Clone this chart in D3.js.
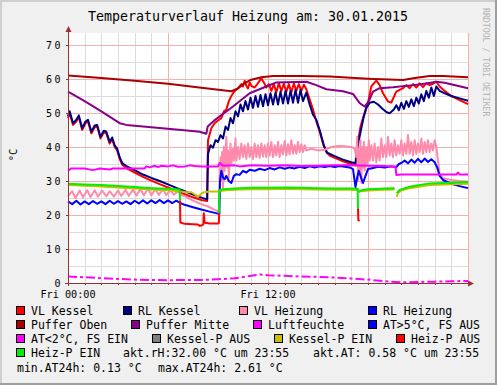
<!DOCTYPE html>
<html>
<head>
<meta charset="utf-8">
<script src="https://cdn.jsdelivr.net/npm/d3@7.9.0/dist/d3.min.js"></script>
<style>
  html, body { margin: 0; padding: 0; background: #f0f0f0; }
  svg { display: block; }
  text { font-family: 'DejaVu Sans Mono', monospace; fill: #000; }
</style>
</head>
<body>
<svg id="chart" width="497" height="385"></svg>
<script>
// values: [hour, °C]
const vlKessel = [[0,48.5],[0.1,50],[0.3,46.5],[0.5,47.5],[0.65,48.8],[0.85,45],[1.05,47],[1.2,47.5],[1.4,44],[1.6,45.8],[1.75,46],[1.95,42.5],[2.15,44.3],[2.3,44],[2.5,41],[2.65,42.3],[2.8,40],[2.95,39],[3.1,36.5],[3.25,34.8],[3.5,33.8],[4,32.5],[4.5,31.2],[5,30.1],[5.5,29.1],[6,28.1],[6.5,27.1],[7,26.1],[7.5,25.2],[8,24.4],[8.35,24.1],
  [8.4,42],[8.6,45.5],[8.8,47],[9.0,47.8],[9.2,48.5],[9.35,50.5],[9.5,51],[9.65,53.5],[9.8,55],[10.0,56.5],[10.2,57.3],[10.4,58.5],[10.5,57.8],[10.6,59.5],[10.7,58],[10.8,57.2],[10.9,59],[11.0,58],[11.2,57.5],[11.4,58.8],[11.6,60.2],[11.75,59],[11.9,57.5],[12.05,58.5],[12.2,56.5],[12.35,58.5],[12.5,56],[12.65,58.8],[12.8,56.5],[12.95,58.6],[13.1,56.2],[13.25,58.5],[13.4,56],[13.55,58.7],[13.7,56.5],[13.85,58.5],[14.0,56.5],[14.15,58.3],[14.3,57],[14.5,54],[14.7,51],[14.9,47.5],[15.1,44.5],[15.3,41],[15.5,38.5],[15.7,37.5],[16,36.8],[16.5,35.8],[17,35],[17.25,34.6],
  [17.35,40],[17.55,46],[17.7,48.5],[18.0,53],[18.2,57.8],[18.35,58.7],[18.5,59.5],[18.7,58.2],[18.9,55.8],[19.2,53.4],[19.4,53.1],[19.7,56.3],[20.1,57.3],[20.3,58.2],[20.5,57.3],[20.7,58.5],[20.9,57.5],[21.1,58.7],[21.3,57.6],[21.5,58.8],[21.7,58.2],[21.9,58.6],[22.1,59.2],[22.3,57.8],[22.6,56.5],[23,55],[23.5,53.8],[24,52.6]];

const rlKessel = [[0,49],[0.1,50.5],[0.3,47],[0.5,48],[0.65,49.3],[0.85,45.5],[1.05,47.5],[1.2,48],[1.4,44.5],[1.6,46.3],[1.75,46.5],[1.95,43],[2.15,44.8],[2.3,44.5],[2.5,41.5],[2.65,42.8],[2.8,40.5],[2.95,39.5],[3.1,37],[3.25,35.3],[3.5,34.4],[4,33.2],[4.5,31.9],[5,30.9],[5.5,30],[6,29],[6.5,28],[7,27],[7.5,26],[8,25.1],[8.35,24.6],
  [8.4,38],[8.55,40.5],[8.7,39.8],[8.85,42],[9,41.5],[9.15,43.5],[9.3,42.5],[9.45,46],[9.6,45],[9.75,48.5],[9.9,47],[10.05,50.5],[10.2,49],[10.35,52.5],[10.5,50.5],[10.65,53.5],[10.8,51],[10.95,54.5],[11.1,51.5],[11.25,55],[11.4,51.8],[11.55,55.3],[11.7,52],[11.85,55.5],[12,52.3],[12.15,55.8],[12.3,52.5],[12.45,56],[12.6,52.5],[12.75,56.3],[12.9,52.8],[13.05,56.5],[13.2,52.8],[13.35,56.5],[13.5,53],[13.65,56.8],[13.8,53],[13.95,56.8],[14.1,53.5],[14.3,56],[14.5,52.5],[14.7,49.5],[14.9,48],[15.1,45],[15.35,40.5],[15.55,38.3],[16,37.3],[16.5,36.3],[17,35.5],[17.25,35.2],
  [17.3,38],[17.45,42],[17.6,45.5],[17.75,49],[17.9,51.5],[18.1,53],[18.35,53.3],[18.6,52.5],[18.85,51.3],[19.1,50.3],[19.3,49.9],[19.55,51],[19.7,52.3],[19.85,50.8],[20,53],[20.15,51.2],[20.3,53.5],[20.45,51.8],[20.6,54],[20.75,52],[20.9,54.5],[21.05,52.8],[21.2,55.5],[21.35,53.5],[21.5,56.5],[21.65,54.5],[21.8,57.5],[21.95,55],[22.1,57.8],[22.3,56.5],[22.6,55.8],[23,55],[23.5,54.3],[24,53.6]];

const vlHeizung = [[0,25.5],[0.25,27],[0.45,25],[0.7,27.2],[0.9,25.2],[1.15,27.3],[1.35,25.3],[1.6,27.3],[1.8,25.4],[2.05,27.2],[2.3,25.5],[2.5,27],[2.75,25.4],[3.0,27.2],[3.2,25.6],[3.45,27.4],[3.65,25.6],[3.9,27.5],[4.1,25.7],[4.35,27.6],[4.55,25.8],[4.8,27.8],[5.0,25.8],[5.25,27.6],[5.45,25.9],[5.7,27.5],[5.9,25.9],[6.15,27.3],[6.35,26],[6.6,27],[6.8,25.8],[7.0,25.6],[7.2,25],[7.6,24],[8.0,23.2],[8.4,22.5],[8.8,21.5],[9.05,21],
  [9.1,29],[9.15,37],[9.2,30],[9.25,38.5],[9.3,28],[9.35,40],[9.4,33],[9.5,43],[9.55,34],[9.6,39],[9.65,31],[9.75,41],[9.8,35],[9.9,39.5],[9.95,36],[10.05,42.5],[10.1,36],[10.2,40],[10.3,36.5],[10.4,41],[10.5,37],[10.6,40.5],[10.7,36.5],[10.8,41],[10.9,37],[11.0,40],[11.1,36.5],[11.2,41],[11.3,37],[11.4,40.5],[11.5,36.8],[11.6,41],[11.7,37.2],[11.8,40.5],[11.9,37],[12.0,41],[12.1,37.5],[12.2,41.5],[12.3,37],[12.4,40.5],[12.5,37.5],[12.6,41.5],[12.7,37],[12.8,40.5],[12.9,37.8],[13.0,41.8],[13.1,37.5],[13.2,40.8],[13.3,37.8],[13.4,42],[13.5,38],[13.6,40.5],[13.7,38],[13.8,41.5],[13.9,38.5],[14.0,40.8],[14.1,38.5],[14.2,40.5],[14.3,39],[14.6,39.5],[15,39],[15.4,39.2],[15.8,40],[16.2,40.3],[16.6,40.2],[17.0,40],[17.2,39.5],
  [17.3,37],[17.35,43],[17.4,30],[17.45,39],[17.5,33],[17.55,42],[17.6,29.5],[17.65,40],[17.7,34],[17.75,41.5],[17.8,33],[17.9,40],[17.95,35],[18.05,42],[18.1,36],[18.2,40.5],[18.3,36],[18.4,41],[18.5,35.5],[18.6,40],[18.7,36],[18.8,42.5],[18.9,37],[19.0,40.5],[19.1,37],[19.2,43],[19.3,37.5],[19.4,41],[19.5,37],[19.6,42],[19.7,37.5],[19.8,40.5],[19.9,38],[20.0,42],[20.1,37.5],[20.2,41],[20.3,38],[20.4,43.5],[20.5,38],[20.6,41.5],[20.7,37.5],[20.8,42],[20.9,38],[21.0,41],[21.1,38.5],[21.2,42.5],[21.3,38],[21.4,41.5],[21.5,38.5],[21.6,42],[21.7,38.5],[21.8,41],[21.9,39],[22.0,42],[22.1,40],[22.2,36],[22.3,32],[22.5,30.8],[23,30.3],[23.5,30],[24,29.8]];

const rlHeizung = [[0,24],[0.25,23.2],[0.5,24.2],[0.75,23.1],[1.0,24],[1.25,23.2],[1.5,24.1],[1.75,23.3],[2.0,24],[2.25,23.2],[2.5,24.2],[2.75,23.3],[3.0,24.1],[3.25,23.3],[3.5,24],[3.75,23.2],[4.0,24.2],[4.25,23.4],[4.5,24.3],[4.75,23.4],[5.0,24.3],[5.25,23.5],[5.5,24.4],[5.75,23.5],[6.0,24.3],[6.25,23.5],[6.5,24.2],[6.7,23.6],[7.0,23],[7.5,22.3],[8.0,21.6],[8.5,21],[9.0,20.4],[9.08,20.3],
  [9.12,30],[9.2,33],[9.3,31],[9.4,30.5],[9.5,31.5],[9.65,30],[9.8,29.4],[9.95,31.5],[10.1,32],[10.3,31.8],[10.5,33],[10.7,32.5],[10.9,33.3],[11.2,33],[11.5,33.6],[11.8,33.2],[12.1,33.8],[12.4,33.4],[12.7,34],[13,33.6],[13.3,34],[13.6,33.7],[13.9,34.2],[14.2,33.8],[14.5,34.3],[14.8,34],[15.1,34.3],[15.4,34.1],[15.7,34.4],[16,34.1],[16.3,34.4],[16.6,34.2],[16.9,34],[17.1,33.5],
  [17.25,28.2],[17.35,31],[17.45,33],[17.55,31.5],[17.7,29.4],[17.85,31.5],[18.0,33.5],[18.3,33.8],[18.6,34.2],[19.0,34],[19.4,34.3],[19.7,34.1],[19.85,35],[20.0,35.3],[20.2,36],[20.4,35.2],[20.6,36.3],[20.8,35.4],[21.0,36.5],[21.2,35.5],[21.4,36.6],[21.6,35.6],[21.8,36.4],[22.0,35.5],[22.15,34],[22.3,31.5],[22.5,30.3],[23,29.2],[23.5,28.5],[24,27.9]];

const pufferOben = [[0,61],[2,60.3],[4,59.5],[6,58.6],[8,57.4],[9.8,56.4],[10.2,57.2],[10.6,58.8],[11,59.8],[11.6,60.5],[12.3,60.9],[14,60.9],[15.7,60.7],[18,60.1],[20.1,59.7],[20.8,60.3],[21.7,60.9],[22.5,60.9],[24,60.5]];

const pufferMitte = [[0,56.3],[1,53.5],[2,50.5],[3.1,47],[3.5,46.5],[5,45.8],[7.3,44.8],[7.9,44.5],[8.3,43.9],[8.38,46],[8.8,47.9],[9.9,51.9],[10.9,55.8],[11.9,57.8],[12.5,59],[14.3,59.2],[14.9,58.2],[15.5,57],[16.5,56.4],[17.1,55.6],[17.5,52.9],[17.8,51.9],[18.05,53.5],[18.3,56.3],[18.7,57.3],[19.5,57.6],[20.7,58.2],[21.5,58.7],[22.1,59.2],[22.6,58.9],[23.3,58.1],[24,57.3]];

const luftfeuchte = [[0,33],[0.2,33.7],[1,33.7],[1.5,33.2],[1.9,33.7],[2.5,33.4],[2.7,33.7],[4.6,33.7],[4.7,34.3],[4.9,34],[5.2,34.5],[5.4,34.1],[5.6,34.5],[6,34.3],[6.3,34.6],[6.6,34.2],[7,34.3],[7.3,34.6],[7.6,34.4],[8,34.3],[9,34.3],[9.1,35.3],[9.3,34.5],[10,34.6],[10.3,34.3],[11,34.6],[12,34.5],[13,34.6],[14,34.4],[15,34.5],[16,34.6],[17,34.6],[18,34.5],[19,34.4],[19.65,34.2],[19.7,31.8],[20,31.9],[21,31.9],[22,31.9],[23.3,31.9],[23.4,32.5],[23.5,31.9],[24,31.9]];

const aussenTemp = [[0,1.9],[1,1.7],[2,1.4],[3,1.2],[4,1.0],[5,0.9],[6,0.8],[7,0.9],[8,0.9],[9,1.1],[10,1.4],[11,2.1],[11.5,2.5],[12,2.3],[13,2.1],[14,1.9],[15,1.8],[16,1.6],[17,1.3],[18,1.0],[19,0.5],[20,0.2],[21,0.3],[22,0.4],[23,0.5],[24,0.6]];

const kesselPEin = [
  [[0,28.8],[1,28.6],[2,28.4],[3,28.1],[4,27.8],[5,27.5],[6,27.3],[6.7,27.0],[7,26.8],[7.4,26.7],[7.5,26.4],[7.8,25.4],[8.1,26.6],[8.5,26.9],[9.1,26.9],[9.3,27.2],[10,27.4],[11,27.6],[12,27.6],[13,27.7],[14,27.6],[15,27.5],[16,27.4],[17,27.4],[17.4,27.3],[17.6,27.0],[18,27.2],[19,27.4],[19.6,27.5]],
  [[19.72,25.3],[19.8,26.5],[20,27.2],[20.5,27.9],[21.7,28.8],[24,29.2]]
];

const heizPAus = [
  [[6.72,24.3],[6.74,17.8],[7,17.4],[7.5,17.3],[7.8,17.2],[7.9,16.8],[8.05,17],[8.12,17.3],[8.15,20.5],[8.2,17.7],[8.5,17.5],[9.0,17.5],[9.05,17.6],[9.07,20.5]],
  [[17.4,22],[17.42,18.5],[17.5,18.3]]
];

const heizPEin = [
  [[0,29.2],[1,29],[2,28.8],[3,28.5],[4,28.2],[5,27.9],[6,27.7],[6.7,27.5],[6.72,24.3]],
  [[9.07,20.5],[9.08,27.3],[9.3,27.6],[10,27.8],[11,28],[12,28],[13,28.1],[14,28],[15,27.9],[16,27.8],[17,27.8],[17.38,27.7],[17.4,22]],
  [[17.45,26.7],[17.6,27.3],[18,27.6],[19,27.8],[19.6,27.9]],
  [[19.72,26.4],[19.9,27.4],[20.5,28.3],[21.7,29.3],[24,29.7]]
];

const yTicks = [0, 10, 20, 30, 40, 50, 60, 70];
const xLabelHours = [0, 12];
const xLabels = ['Fri 00:00', 'Fri 12:00'];

const legendRows = [
  [['VL Kessel', '#ff0000', 31], ['RL Kessel', '#000080', 138], ['VL Heizung', '#ff8aab', 254], ['RL Heizung', '#0000ff', 383]],
  [['Puffer Oben', '#aa0000', 31], ['Puffer Mitte', '#880088', 146], ['Luftfeuchte', '#ff00ff', 268], ['AT>5°C, FS AUS', '#0000ff', 383]],
  [['AT<2°C, FS EIN', '#ff00ff', 31], ['Kessel-P AUS', '#808080', 167], ['Kessel-P EIN', '#c8c000', 289], ['Heiz-P AUS', '#ff0000', 411]],
  [['Heiz-P EIN', '#00ee00', 31]]
];
const infoLines = [
  ['akt.rH:32.00 °C um 23:55', 123, 357],
  ['akt.AT: 0.58 °C um 23:55', 313, 357],
  ['min.AT24h: 0.13 °C', 17, 371.5],
  ['max.AT24h: 2.61 °C', 158, 371.5]
];

const W = 497, H = 385;
const svg = d3.select('#chart');

const x = d3.scaleLinear().domain([0, 24]).range([68, 468]);
const y = d3.scaleLinear().domain([0, 73.53]).range([283, 33]);

// frame
svg.append('rect').attr('width', W).attr('height', H).attr('fill', '#f0f0f0');
svg.append('path').attr('d', `M1,${H} V1 H${W}`).attr('stroke', '#cfcfcf').attr('stroke-width', 2).attr('fill', 'none');
svg.append('path').attr('d', `M0,${H - 1} H${W - 1} V0`).attr('stroke', '#9e9e9e').attr('stroke-width', 2).attr('fill', 'none');

svg.append('rect')
  .attr('x', x(0)).attr('y', y.range()[1])
  .attr('width', x(24) - x(0)).attr('height', y(0) - y.range()[1])
  .attr('fill', '#ffffff');

// grid
const grid = svg.append('g').attr('shape-rendering', 'crispEdges');
d3.range(1, 25).filter(h => h % 6 !== 0).forEach(h => {
  grid.append('line').attr('x1', Math.round(x(h)) + 0.5).attr('x2', Math.round(x(h)) + 0.5)
    .attr('y1', y.range()[1]).attr('y2', y(0)).attr('stroke', '#dcdcdc');
});
d3.range(5, 73, 10).forEach(v => {
  grid.append('line').attr('y1', Math.round(y(v)) + 0.5).attr('y2', Math.round(y(v)) + 0.5)
    .attr('x1', x(0)).attr('x2', x(24)).attr('stroke', '#dcdcdc');
});
[6, 12, 18, 24].forEach(h => {
  grid.append('line').attr('x1', Math.round(x(h)) + 0.5).attr('x2', Math.round(x(h)) + 0.5)
    .attr('y1', y.range()[1]).attr('y2', y(0)).attr('stroke', '#f3b0b0');
});
yTicks.slice(1).forEach(v => {
  grid.append('line').attr('y1', Math.round(y(v)) + 0.5).attr('y2', Math.round(y(v)) + 0.5)
    .attr('x1', x(0)).attr('x2', x(24)).attr('stroke', '#f3b0b0');
});

// series
const line = d3.line().x(d => x(d[0])).y(d => y(d[1]));
function drawLine(data, color, width = 2, dash = null) {
  svg.append('path')
    .datum(data)
    .attr('d', line)
    .attr('fill', 'none')
    .attr('stroke', color)
    .attr('stroke-width', width)
    .attr('stroke-linejoin', 'round')
    .attr('stroke-dasharray', dash);
}

drawLine(vlKessel, '#ff0000');
drawLine(rlKessel, '#000080');
drawLine(vlHeizung, '#ff8aab');
drawLine(rlHeizung, '#0000ff');
drawLine(pufferOben, '#aa0000');
drawLine(pufferMitte, '#880088');
drawLine(luftfeuchte, '#ff00ff');
drawLine(aussenTemp, '#ff00ff', 2, '9,3,3,3');
kesselPEin.forEach(seg => drawLine(seg, '#c8c000'));
heizPAus.forEach(seg => drawLine(seg, '#ff0000'));
heizPEin.forEach(seg => drawLine(seg, '#00ee00'));

// axes
const axisColor = '#993333';
const axes = svg.append('g').attr('shape-rendering', 'crispEdges');
axes.append('line').attr('x1', x(0) + 0.5).attr('x2', x(0) + 0.5).attr('y1', y(0) + 3).attr('y2', 28).attr('stroke', axisColor);
axes.append('line').attr('x1', x(0) - 3).attr('x2', 470).attr('y1', y(0) + 0.5).attr('y2', y(0) + 0.5).attr('stroke', axisColor);
svg.append('path').attr('d', `M${x(0) + 0.5},26 l-3,6 h6 z`).attr('fill', axisColor);
svg.append('path').attr('d', `M474,${y(0) + 0.5} l-6,-3 v6 z`).attr('fill', axisColor);

yTicks.forEach(v => {
  axes.append('line').attr('x1', x(0) - 2).attr('x2', x(0)).attr('y1', Math.round(y(v)) + 0.5).attr('y2', Math.round(y(v)) + 0.5).attr('stroke', axisColor);
});
d3.range(1, 24).forEach(h => {
  axes.append('line').attr('x1', Math.round(x(h)) + 0.5).attr('x2', Math.round(x(h)) + 0.5).attr('y1', y(0)).attr('y2', y(0) + 2).attr('stroke', axisColor);
});

svg.append('g').selectAll('text').data(yTicks).join('text')
  .attr('x', 63).attr('y', d => y(d) + 3.5)
  .attr('text-anchor', 'end')
  .attr('font-size', 10)
  .attr('letter-spacing', 2.5)
  .text(d => d);

svg.append('g').selectAll('text').data(xLabelHours).join('text')
  .attr('x', d => x(d)).attr('y', 298)
  .attr('text-anchor', 'middle')
  .attr('font-size', 10.2)
  .text((d, i) => xLabels[i]);

// titles
svg.append('text').attr('x', 248).attr('y', 20.5).attr('text-anchor', 'middle')
  .attr('font-size', 13.3).text('Temperaturverlauf Heizung am: 30.01.2015');
svg.append('text').attr('transform', 'translate(17,155) rotate(-90)').attr('text-anchor', 'middle')
  .attr('font-size', 10.5).text('°C');
svg.append('text').attr('transform', 'translate(483,8) rotate(90)')
  .attr('font-size', 8.2).style('fill', '#b4b4b4').text('RRDTOOL / TOBI OETIKER');

// legend
legendRows.forEach((row, r) => {
  const base = 315 + r * 14;
  row.forEach(([label, color, tx]) => {
    svg.append('rect').attr('x', tx - 14.5).attr('y', base - 8.5).attr('width', 8).attr('height', 8)
      .attr('fill', color).attr('stroke', '#000').attr('stroke-width', 1);
    svg.append('text').attr('x', tx).attr('y', base).attr('font-size', 11.5).text(label);
  });
});
infoLines.forEach(([t, tx, ty]) => {
  svg.append('text').attr('x', tx).attr('y', ty).attr('font-size', 11.5).attr('xml:space', 'preserve').text(t);
});
</script>
</body>
</html>
